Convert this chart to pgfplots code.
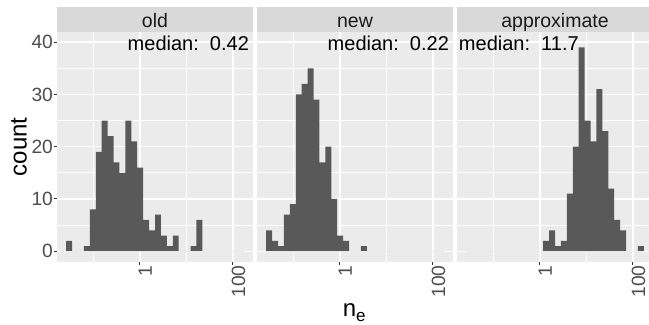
\documentclass[border=0pt]{standalone}
\usepackage{pgfplots}
\usepackage{pgfplotstable}
\pgfplotsset{compat=1.18}
\usepackage{fontspec}
\setmainfont{Liberation Sans}

\definecolor{panelbg}{HTML}{EBEBEB}
\definecolor{stripbg}{HTML}{D9D9D9}
\definecolor{barfill}{HTML}{595959}
\definecolor{ticklab}{HTML}{4D4D4D}
\definecolor{tickcol}{HTML}{333333}
\definecolor{striptext}{HTML}{1A1A1A}

\newcommand{\ticksz}{\fontsize{19.2bp}{23bp}\selectfont}
\newcommand{\stripsz}{\fontsize{19.5bp}{23bp}\selectfont}
\newcommand{\medsz}{\fontsize{20bp}{24bp}\selectfont}
\newcommand{\titlesz}{\fontsize{24bp}{28bp}\selectfont}

% Histogram counts of n_e: 30 bins on a log10 scale, each row is the
% left edge of a bin; the last row only closes the final bin.
\pgfplotstableread{
edge     old new approx
-1.5870   2   4   0
-1.4597   0   2   0
-1.3323   0   1   0
-1.2050   1   7   0
-1.0777   8   9   0
-0.9503  19  30   0
-0.8230  25  32   0
-0.6957  22  35   0
-0.5684  17  29   0
-0.4410  15  17   0
-0.3137  25  20   0
-0.1864  21  10   0
-0.0590  16   3   0
 0.0683   6   2   2
 0.1956   4   0   4
 0.3230   7   0   1
 0.4503   3   1   2
 0.5776   1   0  11
 0.7049   3   0  20
 0.8323   0   0  39
 0.9596   0   0  25
 1.0869   1   0  21
 1.2143   6   0  31
 1.3416   0   0  23
 1.4689   0   0  12
 1.5963   0   0   6
 1.7236   0   0   4
 1.8509   0   0   0
 1.9782   0   0   0
 2.1056   0   0   1
 2.2329   0   0   0
}\bins

\pgfplotsset{
  facet/.style={
    scale only axis, width=195.4bp, height=230bp, anchor=south west,
    xmin=-1.778, xmax=2.424, ymin=-2, ymax=42,
    clip=false,
    axis background/.style={fill=panelbg},
    axis line style={draw=none},
    xtick={0,2}, xticklabels={1,100}, minor xtick={-1,1},
    ytick={0,10,20,30,40}, yticklabels={0,10,20,30,40},
    minor ytick={5,15,25,35},
    grid=both,
    major grid style={draw=white, line width=1.4bp},
    minor grid style={draw=white, line width=0.7bp},
    tick align=outside, major tick length=3.7bp, minor tick length=0pt,
    tick pos=left,
    tick style={draw=tickcol, line width=1bp},
    xticklabel style={rotate=90, anchor=north east, inner sep=0pt,
      yshift=1.5bp, font=\ticksz, text=ticklab},
    yticklabel style={anchor=east, inner sep=0.5bp,
      font=\ticksz, text=ticklab},
  },
  nolabels/.style={yticklabels={}, ytick style={draw=none}},
  bars/.style={ybar interval, fill=barfill, draw=none},
}

\begin{document}
\begin{tikzpicture}
\begin{axis}[facet, at={(57.3bp,63.3bp)}]
  \addplot[bars] table[x=edge, y=old] {\bins};
  \node[anchor=base east, font=\medsz, inner sep=0pt]
    at (axis cs:2.347,38.36) {median:\ \ 0.42};
\end{axis}
\begin{axis}[facet, nolabels, at={(257.3bp,63.3bp)}]
  \addplot[bars] table[x=edge, y=new] {\bins};
  \node[anchor=base east, font=\medsz, inner sep=0pt]
    at (axis cs:2.347,38.36) {median:\ \ 0.22};
\end{axis}
\begin{axis}[facet, nolabels, at={(457.3bp,63.3bp)}]
  \addplot[bars] table[x=edge, y=approx] {\bins};
  \node[anchor=base west, font=\medsz, inner sep=0pt]
    at (axis cs:-1.746,38.36) {median:\ \ 11.7};
\end{axis}

% facet strips
\foreach \x/\lab in {57.3/old, 257.3/new, 457.3/approximate} {
  \fill[stripbg] (\x bp, 293.3bp) rectangle ++(195.4bp, 24.4bp);
  \node[anchor=base, font=\stripsz, text=striptext, inner sep=0pt]
    at ({\x bp + 97.7bp}, 297.5bp) {\lab};
}

% axis titles
\node[rotate=90, anchor=base, font=\titlesz, inner sep=0pt]
  at (26.7bp, 178.3bp) {count};
\node[anchor=base west, font=\titlesz, inner sep=0pt]
  at (342.6bp, 8.2bp) {n\raisebox{-5bp}{\fontsize{17bp}{17bp}\selectfont e}};

\pgfresetboundingbox
\path[use as bounding box] (0bp,0bp) rectangle (649bp,325bp);
\end{tikzpicture}
\end{document}
